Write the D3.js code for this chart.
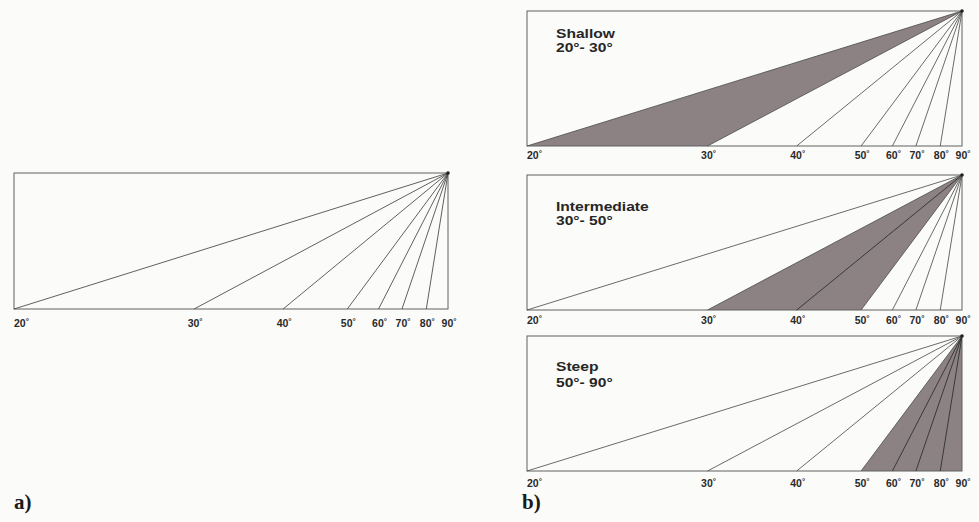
<!DOCTYPE html>
<html><head><meta charset="utf-8">
<script src="https://cdn.jsdelivr.net/npm/d3@7"></script>
<style>
html,body{margin:0;padding:0;background:#fbfbf9;}
svg{display:block;}
</style></head>
<body>
<svg id="chart" width="979" height="522"></svg>
<script>
// Dip angle categories (degrees) drawn as rays from the top-right apex
const angles = [20, 30, 40, 50, 60, 70, 80, 90];
// Horizontal run of each ray at the base, as a fraction of panel width
const runs = [1.0, 0.585, 0.38, 0.232, 0.16, 0.106, 0.05, 0.0];
const tickLabels = ["20", "30", "40", "50", "60", "70", "80", "90"];
// Slope classes shown in panel b
const classNames = ["Shallow", "Intermediate", "Steep"];
const classRanges = ["20°- 30°", "30°- 50°", "50°- 90°"];
const classLow = [20, 30, 50];
const classHigh = [30, 50, 90];
const panelLetters = ["a)", "b)"];

const svg = d3.select("#chart");
const panels = [
  {x0: 14, x1: 448, y0: 173, y1: 309, lab: 18, cls: null},
  {x0: 527, x1: 962, y0: 11, y1: 146, lab: 13, cls: 0, t1: 27, t2: 41.5},
  {x0: 527, x1: 962, y0: 175, y1: 310, lab: 14, cls: 1, t1: 36, t2: 50.5},
  {x0: 527, x1: 962, y0: 336, y1: 471, lab: 16, cls: 2, t1: 35, t2: 51}
];
const fillCol = "#8c8284";

panels.forEach(p => {
  const x = d3.scaleLinear().domain([1, 0]).range([p.x0, p.x1]);
  const y = d3.scaleLinear().domain([0, 1]).range([p.y1, p.y0]);
  const g = svg.append("g");
  const apex = [x(0), y(1)];
  const pts = angles.map((a, i) => ({a, i, bx: x(runs[i]), by: y(0)}));

  if (p.cls !== null) {
    const lo = angles.indexOf(classLow[p.cls]);
    const hi = angles.indexOf(classHigh[p.cls]);
    const poly = [apex, [pts[lo].bx, pts[lo].by], [pts[hi].bx, pts[hi].by]];
    g.append("path")
      .attr("d", d3.line()(poly) + "Z")
      .attr("fill", fillCol).attr("stroke", "none");
  }
  g.append("rect")
    .attr("x", x(1)).attr("y", y(1))
    .attr("width", x(0) - x(1)).attr("height", y(0) - y(1))
    .attr("fill", "none").attr("stroke", "#606060").attr("stroke-width", 1);
  g.selectAll("line.ray").data(pts.filter(d => d.a !== 90)).join("line")
    .attr("class", "ray")
    .attr("x1", apex[0]).attr("y1", apex[1])
    .attr("x2", d => d.bx).attr("y2", d => d.by)
    .attr("stroke", d => {
      if (p.cls === null) return "#454545";
      const inside = d.a > classLow[p.cls] && d.a < classHigh[p.cls];
      return inside ? "#2a2a2a" : "#505050";
    })
    .attr("stroke-width", 0.85);
  g.append("circle").attr("cx", apex[0]).attr("cy", apex[1]).attr("r", 1.8).attr("fill", "#222");

  const tk = g.selectAll("text.tick").data(pts).join("text")
    .attr("class", "tick")
    .attr("x", d => d.i === 0 ? d.bx : d.bx + 1)
    .attr("y", d => d.by + p.lab)
    .attr("text-anchor", d => d.i === 0 ? "start" : "middle")
    .attr("font-family", "'Liberation Sans', Arial, sans-serif")
    .attr("font-weight", "bold")
    .attr("font-size", 10.5)
    .attr("fill", "#2a2a2a");
  tk.append("tspan").text(d => tickLabels[d.i]);
  tk.append("tspan").attr("font-size", 8).attr("dy", -3).text("°");

  if (p.cls !== null) {
    const t = g.append("text")
      .attr("font-family", "'Liberation Sans', Arial, sans-serif")
      .attr("font-weight", "bold")
      .attr("font-size", 13)
      .attr("fill", "#262626")
      .attr("transform", `translate(${p.x0 + 29},${p.y0}) scale(1.2,1)`);
    t.append("tspan").attr("x", 0).attr("y", p.t1).text(classNames[p.cls]);
    t.append("tspan").attr("x", 0).attr("y", p.t2).text(classRanges[p.cls]);
  }
});

svg.selectAll("text.letter").data(panelLetters).join("text")
  .attr("class", "letter")
  .attr("x", (d, i) => i === 0 ? 14 : 522)
  .attr("y", 509)
  .attr("font-family", "'Liberation Serif', 'Times New Roman', serif")
  .attr("font-weight", "bold")
  .attr("font-size", 21)
  .attr("fill", "#1a1a1a")
  .text(d => d);
</script>
</body></html>
